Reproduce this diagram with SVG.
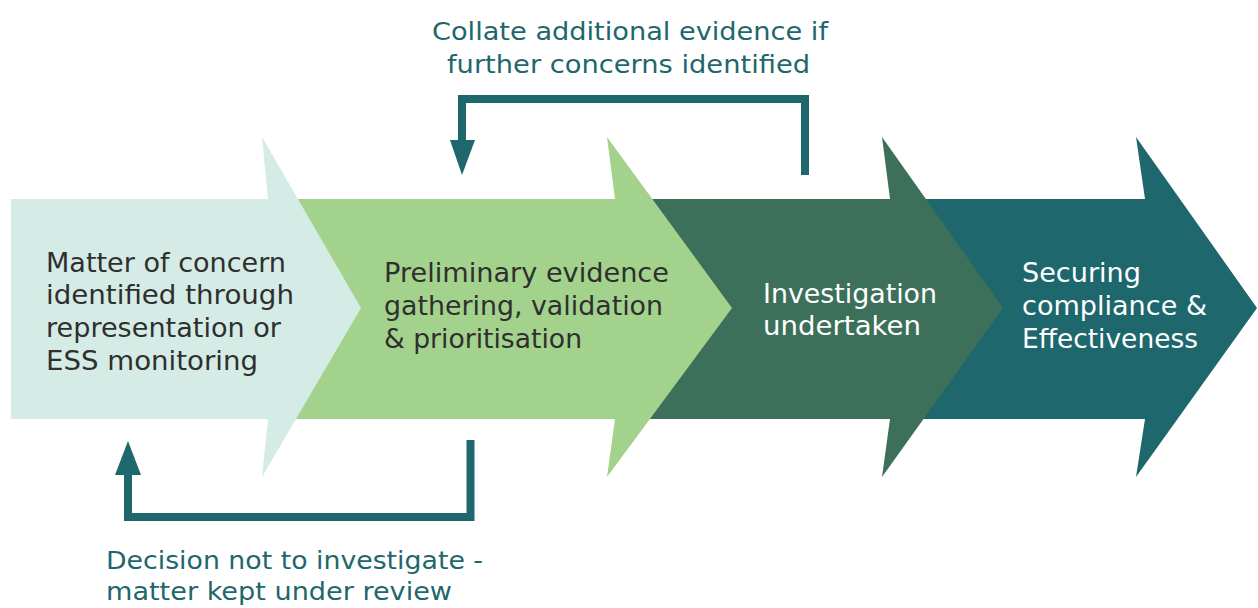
<svg xmlns="http://www.w3.org/2000/svg" width="1258" height="608" viewBox="0 0 1258 608">
<defs>
<style>
.t{font-family:"DejaVu Sans","Liberation Sans",sans-serif;font-size:27px}
.dk{fill:#2f2f2f}
.wh{fill:#ffffff}
.lb{font-family:"DejaVu Sans","Liberation Sans",sans-serif;font-size:24px;fill:#1e676d}
.ln{fill:none;stroke:#1e676d;stroke-width:8;stroke-linejoin:miter;stroke-linecap:butt}
.ah{fill:#1e676d}
</style>
</defs>
<rect width="1258" height="608" fill="#ffffff"/>
<g id="step4">
<polygon points="880,199 1145,199 1136,137 1257,308 1136,477 1145,419 880,419" fill="#1e676d"/>
<text class="t wh"><tspan x="1022" y="282" textLength="119" lengthAdjust="spacingAndGlyphs">Securing</tspan><tspan x="1022" y="315" textLength="185" lengthAdjust="spacingAndGlyphs">compliance &amp;</tspan><tspan x="1022" y="348" textLength="176" lengthAdjust="spacingAndGlyphs">Effectiveness</tspan></text>
</g>
<g id="step3">
<polygon points="600,199 890,199 882,137 1003,308 882,477 890,419 600,419" fill="#3c705a"/>
<text class="t wh"><tspan x="763" y="303" textLength="174" lengthAdjust="spacingAndGlyphs">Investigation</tspan><tspan x="763" y="335" textLength="158" lengthAdjust="spacingAndGlyphs">undertaken</tspan></text>
</g>
<g id="step2">
<polygon points="250,199 615,199 607,137 732,308 607,477 615,419 250,419" fill="#a3d28c"/>
<text class="t dk"><tspan x="384" y="282" textLength="285" lengthAdjust="spacingAndGlyphs">Preliminary evidence</tspan><tspan x="384" y="315" textLength="279" lengthAdjust="spacingAndGlyphs">gathering, validation</tspan><tspan x="384" y="348" textLength="198" lengthAdjust="spacingAndGlyphs">&amp; prioritisation</tspan></text>
</g>
<g id="step1">
<polygon points="11,199 268,199 262,137 361,308 262,477 268,419 11,419" fill="#d5ece6"/>
<text class="t dk"><tspan x="46" y="272" textLength="240" lengthAdjust="spacingAndGlyphs">Matter of concern</tspan><tspan x="46" y="304" textLength="248" lengthAdjust="spacingAndGlyphs">identified through</tspan><tspan x="46" y="337" textLength="235" lengthAdjust="spacingAndGlyphs">representation or</tspan><tspan x="46" y="370" textLength="212" lengthAdjust="spacingAndGlyphs">ESS monitoring</tspan></text>
</g>
<g id="connectors">
<polyline class="ln" points="805,175 805,99 462,99 462,142"/>
<polygon class="ah" points="450,140 475,140 462,175"/>
<polyline class="ln" points="470.5,440 470.5,517 128,517 128,473"/>
<polygon class="ah" points="115,475 141,475 128,441"/>
</g>
<g id="labels">
<text class="lb"><tspan x="432" y="40" textLength="396" lengthAdjust="spacingAndGlyphs">Collate additional evidence if</tspan><tspan x="447" y="73" textLength="363" lengthAdjust="spacingAndGlyphs">further concerns identified</tspan></text>
<text class="lb"><tspan x="106" y="569" textLength="377" lengthAdjust="spacingAndGlyphs">Decision not to investigate -</tspan><tspan x="106" y="600" textLength="346" lengthAdjust="spacingAndGlyphs">matter kept under review</tspan></text>
</g>
</svg>
